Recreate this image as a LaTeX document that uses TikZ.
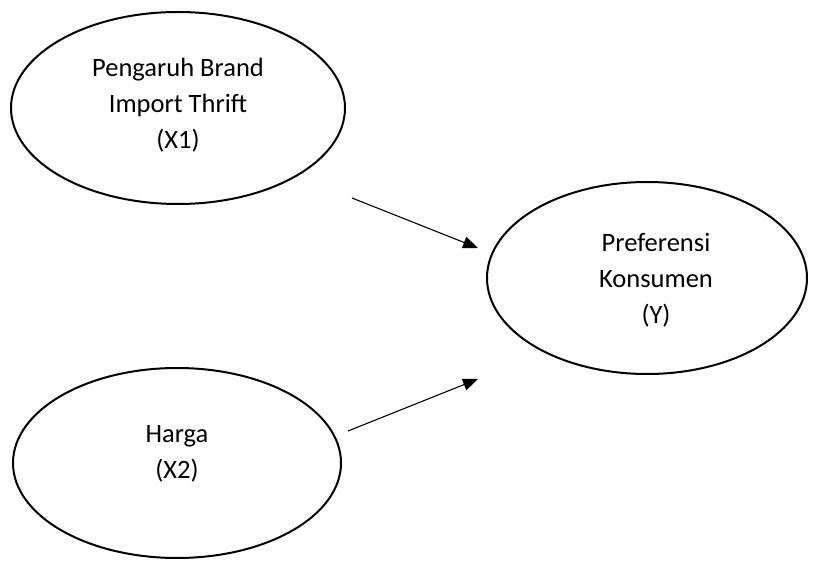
\documentclass[tikz,border=0pt]{standalone}
\usepackage{fontspec}
\setmainfont{Carlito}
\usetikzlibrary{shapes.geometric,arrows.meta}
\tikzset{
  var/.style={draw=black, line width=2pt, ellipse, inner sep=0pt},
  lbl/.style={anchor=base, inner sep=0pt, font=\fontsize{26.5}{36}\selectfont},
  link/.style={line width=1.1pt, -{Triangle[length=15pt,width=12pt]}}
}
\newcommand{\lines}[1]{\begin{tabular}[t]{@{}c@{}}#1\end{tabular}}
\begin{document}
\begin{tikzpicture}[x=1pt,y=-1pt]
\useasboundingbox (0,0) rectangle (817,561);
\node[var, minimum width=334pt, minimum height=192pt] (x1) at (178,108) {};
\node[var, minimum width=328pt, minimum height=190pt] (x2) at (177,463) {};
\node[var, minimum width=320pt, minimum height=192pt] (y) at (647,278) {};
\node[lbl] (tx1) at (178,77) {\lines{Pengaruh Brand\\Import Thrift\\(X1)}};
\node[lbl] (tx2) at (177,442) {\lines{Harga\\(X2)}};
\node[lbl] (ty) at (656,252) {\lines{Preferensi\\Konsumen\\(Y)}};
\coordinate (a1s) at (352,198);
\coordinate (a1e) at (478,248);
\coordinate (a2s) at (348,431);
\coordinate (a2e) at (478,379);
\draw[link] (a1s) -- (a1e);
\draw[link] (a2s) -- (a2e);
\end{tikzpicture}
\end{document}
